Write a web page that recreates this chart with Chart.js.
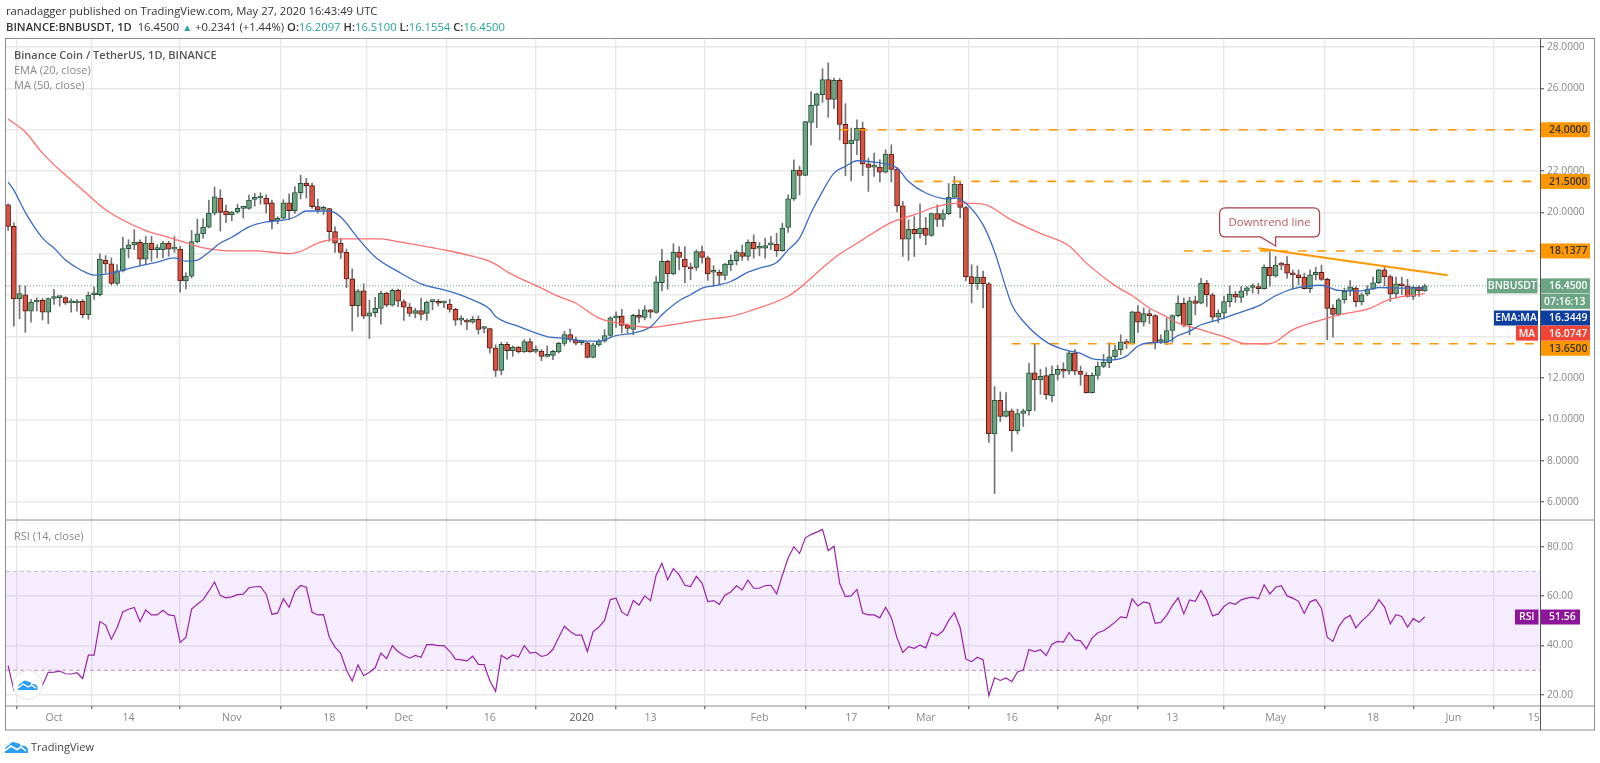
<!DOCTYPE html>
<html>
<head>
<meta charset="utf-8">
<title>BNBUSDT</title>
<script src="https://cdn.jsdelivr.net/npm/chart.js@4/dist/chart.umd.min.js"></script>
<style>
  html, body { margin: 0; padding: 0; background: #fff; }
  body { width: 1600px; height: 763px; position: relative; overflow: hidden; font-family: "Open Sans", sans-serif; }
  canvas { position: absolute; left: 0; top: 0; filter: blur(0.3px); }
  .txt { position: absolute; white-space: nowrap; }
  .head { left: 6px; font-size: 11.25px; color: #333; }
  .head b { font-weight: 600; }
  .head i { font-style: normal; color: #26a69a; }
  .up { color: #26a69a; font-size: 10px; }
  .pane { left: 14px; font-size: 11px; color: #888; }
</style>
</head>
<body>
<canvas id="myChart" width="1600" height="763"></canvas>
<div class="txt head" style="top:3px">ranadagger published on TradingView.com, May 27, 2020 16:43:49 UTC</div>
<div class="txt head" style="top:19px"><b>BINANCE:BNBUSDT, 1D</b>&nbsp; 16.4500 <span class="up">▲</span> +0.2341 (+1.44%) <b>O:</b><i>16.2097</i> <b>H:</b><i>16.5100</i> <b>L:</b><i>16.1554</i> <b>C:</b><i>16.4500</i></div>
<div class="txt pane" style="top:47px;color:#555;font-weight:600">Binance Coin / TetherUS, 1D, BINANCE</div>
<div class="txt pane" style="top:62px">EMA (20, close)</div>
<div class="txt pane" style="top:77px">MA (50, close)</div>
<div class="txt pane" style="top:528px">RSI (14, close)</div>
<div class="txt" style="left:31px;top:739px;font-size:11px;color:#444">TradingView</div>
<script>
// Daily candles, index 0 = Sep 23 2019, last = May 27 2020
const candleOpen = [
  20.37,19.33,15.83,16.02,15.23,15.67,15.75,15.18,15.84,15.88,
  15.88,15.63,15.62,15.7,15.06,16.02,16.02,17.69,17.51,16.57,
  17.18,18.25,18.43,18.56,17.74,18.52,18.2,18.2,18.52,18.23,
  18.23,16.69,16.92,18.59,18.96,19.29,19.97,20.7,20.07,19.88,
  20.02,20.2,20.2,20.63,20.7,20.7,20.46,19.6,19.72,20.46,
  20.09,20.96,21.42,21.3,20.28,20.15,20.19,19.07,18.52,18.07,
  16.79,15.49,16.21,14.99,15.15,15.36,16.1,15.52,16.23,15.69,
  15.42,15.12,15.26,15.12,15.69,15.66,15.63,15.57,15.31,14.79,
  14.79,14.7,14.83,14.39,14.39,13.44,12.36,13.62,13.31,13.49,
  13.25,13.75,13.28,13.3,13.04,13.09,13.25,13.67,14.09,13.84,
  13.7,13.7,12.99,13.6,13.78,14.05,14.9,14.99,14.54,14.34,
  15.03,14.92,15.29,15.16,16.6,17.64,17.03,18.08,17.75,17.37,
  17.34,18.11,17.8,17.11,17.11,16.95,17.46,17.67,18.06,17.87,
  18.55,18.27,18.27,18.43,18.47,18.15,19.27,20.66,22.05,21.79,
  24.35,25.18,25.69,26.42,25.47,26.39,24.26,23.31,23.48,24.08,
  22.35,22.19,22.19,21.95,22.82,22.1,20.32,18.71,19.18,18.97,
  19.24,18.89,19.94,19.66,19.94,20.74,21.37,20.24,16.9,16.55,
  16.87,16.55,9.29,10.92,10.14,10.41,9.45,10.28,10.41,12.25,
  11.9,12.11,11.13,12.17,12.41,12.33,13.21,12.33,12.14,11.29,
  12.12,12.56,12.73,13.02,13.36,13.74,13.66,15.19,14.69,15.09,
  15.01,13.76,13.74,14.29,15.01,15.62,14.57,15.73,15.61,16.58,
  16.02,14.94,15.13,15.69,16.05,15.89,16.21,16.37,16.42,16.32,
  17.35,16.93,17.48,17.5,17.06,16.98,16.87,16.32,16.98,17.11,
  16.77,15.36,15.07,15.77,16.21,16.34,15.69,16.05,16.29,16.6,
  17.22,16.9,16.06,16.55,16.45,15.94,16.39,16.21
];
const candleHigh = [
  20.42,19.5,16.47,16.44,15.8,15.87,15.84,15.87,16.28,15.92,
  15.92,15.82,15.79,15.79,16.15,16.4,18.0,17.91,17.8,17.48,
  18.8,18.68,19.17,18.68,18.84,18.84,18.44,18.6,18.6,18.84,
  18.36,17.08,19.13,19.68,19.7,20.6,21.23,21.1,20.36,20.05,
  20.4,20.22,20.84,20.93,20.95,20.85,20.6,19.8,20.62,20.9,
  21.25,21.8,21.65,21.42,20.65,20.3,20.2,19.3,18.76,18.23,
  17.27,16.28,16.55,15.76,15.9,16.2,16.15,16.3,16.3,15.77,
  15.6,15.37,15.86,15.72,15.76,15.8,15.7,15.8,15.37,15.0,
  14.86,14.97,15.0,14.48,14.41,13.6,13.72,13.72,13.55,13.52,
  13.85,13.9,13.55,13.36,13.55,13.33,13.72,14.25,14.36,13.97,
  13.82,13.73,13.68,13.85,14.33,14.96,15.2,15.32,14.62,15.08,
  15.3,15.49,15.32,16.9,18.22,17.7,18.48,18.35,18.35,17.55,
  18.19,18.38,17.87,17.43,17.22,17.54,17.95,18.16,18.43,18.67,
  18.92,18.55,18.76,18.84,19.0,19.48,20.85,22.55,22.24,24.4,
  25.85,25.77,26.95,27.23,26.5,26.48,25.26,24.08,24.48,24.37,
  22.63,22.87,22.55,23.03,23.27,22.18,20.53,19.64,19.8,20.42,
  19.76,19.97,20.37,20.13,21.4,21.74,21.5,20.29,17.47,17.42,
  17.16,16.62,11.58,11.32,11.29,10.5,10.49,10.49,12.7,13.66,
  12.42,12.5,12.58,12.61,12.73,13.29,13.37,12.57,12.25,12.25,
  12.77,13.14,13.7,13.58,14.08,13.86,15.22,15.5,15.38,15.3,
  15.06,14.08,14.9,15.06,15.97,15.86,15.9,15.95,16.82,16.71,
  16.1,15.29,15.95,16.45,16.18,16.42,16.42,16.55,16.58,17.47,
  18.11,17.87,17.58,17.87,17.22,17.22,17.06,17.22,17.35,17.46,
  16.82,15.53,15.85,16.34,16.71,16.42,16.1,16.47,16.87,17.25,
  17.42,16.98,16.87,16.87,16.77,16.45,16.45,16.53
];
const candleLow = [
  19.13,14.5,14.86,14.2,14.7,15.23,14.8,14.62,15.55,15.47,
  15.55,15.18,15.23,14.9,14.83,15.8,15.96,17.08,16.5,16.5,
  17.12,17.8,18.2,17.4,17.48,17.64,17.8,17.8,17.88,18.07,
  16.15,16.3,16.84,18.52,18.76,19.25,19.88,19.1,19.5,19.6,
  19.95,19.73,20.15,20.3,20.4,19.97,19.2,19.45,19.68,19.65,
  19.95,20.65,20.7,20.2,19.97,19.9,18.6,18.07,17.77,16.36,
  14.27,14.96,14.86,13.9,14.95,14.6,15.44,15.47,15.44,14.78,
  14.97,14.9,14.8,14.78,15.3,15.48,15.39,15.18,14.54,14.57,
  14.33,14.64,14.12,14.17,13.2,12.07,12.15,12.9,13.04,13.2,
  13.23,13.23,13.2,12.83,13.01,12.88,13.2,13.56,13.74,13.6,
  13.6,12.96,12.96,13.52,13.72,14.0,14.44,14.17,14.17,14.09,
  14.68,14.8,14.89,15.13,16.2,16.29,16.98,17.22,16.61,16.74,
  17.2,17.55,16.71,16.42,16.5,16.74,17.19,17.46,17.68,17.68,
  17.79,17.9,17.79,18.2,17.87,18.12,19.03,20.58,20.85,21.77,
  23.27,24.1,25.32,24.6,25.02,23.5,21.77,21.53,22.79,21.77,
  21.02,21.74,21.47,21.9,21.47,20.02,17.87,17.68,17.87,18.76,
  18.44,18.84,19.32,19.32,19.89,20.69,19.73,16.7,15.62,16.27,
  15.38,8.88,6.4,9.88,10.1,8.45,9.29,9.65,10.2,10.41,
  11.2,10.97,10.84,11.89,12.01,12.17,12.14,11.64,11.26,11.26,
  11.93,12.49,12.49,12.89,13.13,13.42,13.63,14.2,14.5,14.63,
  13.4,13.66,13.61,13.72,14.95,14.46,14.08,15.05,15.58,15.45,
  14.73,14.68,14.85,15.44,15.65,15.65,16.0,16.1,16.06,16.29,
  16.42,16.87,17.23,16.82,16.3,16.5,16.29,16.13,16.74,16.71,
  13.84,13.97,15.0,15.61,15.97,15.44,15.53,15.97,16.26,16.55,
  16.45,15.69,15.85,16.03,15.9,15.79,15.94,16.18
];
const candleClose = [
  19.33,15.83,16.08,15.23,15.67,15.76,15.18,15.84,15.86,15.89,
  15.62,15.63,15.7,15.06,16.0,16.03,17.74,17.51,16.57,17.18,
  18.25,18.43,18.57,17.74,18.52,18.2,18.22,18.52,18.23,18.24,
  16.69,16.92,18.59,18.96,19.29,19.97,20.75,20.0,19.88,20.02,
  20.2,20.22,20.6,20.65,20.72,20.4,19.6,19.72,20.46,20.09,
  20.96,21.41,21.3,20.28,20.12,20.17,19.07,18.52,18.07,16.79,
  15.49,16.21,14.99,15.15,15.36,16.1,15.52,16.23,15.71,15.42,
  15.12,15.26,15.07,15.66,15.7,15.61,15.64,15.31,14.79,14.8,
  14.7,14.83,14.34,14.4,13.44,12.36,13.62,13.31,13.49,13.25,
  13.75,13.25,13.29,13.04,13.14,13.28,13.67,14.09,13.84,13.68,
  13.71,12.99,13.6,13.78,14.05,14.9,14.99,14.54,14.39,15.03,
  14.92,15.29,15.18,16.64,17.64,17.03,18.08,17.82,17.37,17.27,
  18.11,17.82,17.03,17.12,16.95,17.5,17.69,18.08,17.87,18.55,
  18.24,18.28,18.4,18.44,18.15,19.24,20.66,22.05,21.79,24.39,
  25.18,25.74,26.42,25.47,26.39,24.26,23.31,23.5,24.08,22.35,
  22.18,22.2,21.95,22.82,22.08,20.32,18.71,19.18,18.97,19.24,
  18.89,19.94,19.66,19.94,20.74,21.37,20.24,16.9,16.55,16.87,
  16.55,9.29,10.92,10.14,10.41,9.45,10.28,10.41,12.25,11.9,
  12.08,11.18,12.17,12.41,12.32,13.21,12.33,12.17,11.29,12.12,
  12.56,12.75,13.02,13.36,13.74,13.66,15.19,14.69,15.11,15.01,
  13.7,13.77,14.29,15.01,15.62,14.55,15.73,15.6,16.58,16.02,
  14.94,15.13,15.69,16.05,15.9,16.21,16.35,16.39,16.32,17.35,
  16.93,17.45,17.45,17.06,16.98,16.85,16.32,16.98,17.11,16.76,
  15.36,15.07,15.77,16.19,16.4,15.69,16.02,16.29,16.6,17.22,
  16.9,16.06,16.55,16.45,15.94,16.39,16.21,16.45
];

// EMA / MA at these candle indexes
const emaDays = [0,1,3,6,8,10,13,15,18,22,26,29,31,33,35,37,39,42,45,48,50,52,56,58,61,64,68,72,77,81,84,85,89,94,97,101,103,106,109,112,114,117,119,121,124,126,129,131,134,136,138,140,142,144,146,148,151,153,155,157,160,164,165,167,170,172,174,175,177,181,184,187,189,192,195,197,199,202,204,206,208,211,215,218,221,224,229,232,236,239,244,247];
const emaValues = [21.47,21.08,20.0,18.76,18.28,17.7,17.17,16.97,17.07,17.36,17.6,17.8,17.65,17.7,18.08,18.52,18.8,19.3,19.54,19.63,19.78,20.07,20.07,19.78,18.76,17.85,17.14,16.55,16.18,15.77,15.32,14.97,14.49,14.0,13.91,13.78,13.78,14.04,14.17,14.46,15.05,15.73,16.02,16.34,16.5,16.66,17.11,17.31,17.58,18.19,18.76,19.97,21.02,21.9,22.23,22.5,22.44,22.35,22.15,21.5,20.94,20.65,20.69,20.45,19.4,18.1,16.34,15.54,14.74,13.74,13.38,13.18,12.93,12.86,13.05,13.54,13.7,13.73,14.05,14.26,14.57,14.81,15.18,15.48,15.97,16.31,16.48,16.23,16.21,16.37,16.34,16.3449];
const maDays = [0,3,6,9,13,17,24,28,33,36,39,43,49,51,54,58,65,68,72,76,80,84,88,92,96,99,103,107,112,115,121,126,129,136,138,144,149,154,158,162,166,170,175,180,185,188,193,196,199,202,204,208,212,216,220,224,229,232,237,241,247];
const maValues = [24.52,23.89,22.87,22.05,21.09,20.13,19.12,18.8,18.36,18.2,18.14,18.14,18.01,18.12,18.52,18.72,18.72,18.59,18.4,18.19,17.95,17.63,16.98,16.47,15.94,15.61,14.89,14.62,14.44,14.54,14.81,14.97,15.21,15.95,16.34,17.79,18.68,19.52,19.89,20.29,20.45,20.4,19.63,18.99,18.38,17.55,16.46,15.97,15.38,14.95,14.65,14.33,14.0,13.65,13.65,14.33,14.81,15.05,15.32,15.81,16.0747];

const rsiValues = [
  31.9,22,24.7,24,26,26.7,24,29.2,29.3,29.7,
  28.6,28.5,29,26.7,36.1,36.1,49.7,48.3,42.6,47.2,
  53.6,54.7,55.4,49.7,54.4,52.4,52.4,54.3,52.4,52.1,
  41.3,43.3,54.8,56.7,58.6,62,65.7,60.2,59.3,59.7,
  60.6,60.8,63.4,63.8,63.9,60.8,52.6,53.2,58.9,55.5,
  61.9,64.3,63.6,53.5,52.4,52.5,43.4,39.4,36.9,30.1,
  25.7,32.2,27.8,29.2,31,37,34.7,40,37.5,36.1,
  34.9,36,35.3,40.4,40.4,40,40,37.7,34.5,34.2,
  33.8,35.7,32.4,32.3,25.8,21.5,36.1,34.6,36.2,35.4,
  40,37,37.3,35.6,36.2,38.5,43.3,47.8,45.7,44.2,
  44.2,37.6,45.6,47.5,50.2,58.6,59.2,53.5,52.1,58.2,
  56.4,60.1,58.2,68.6,73.3,66.6,71.2,68.6,64.4,63.9,
  68,65.3,57.8,58.2,56.7,60.4,61.7,64.2,62.5,66.5,
  63.2,63.2,64.3,64.4,60.9,68.5,75.4,80,77.3,83.6,
  84.9,85.9,87,78.4,80.2,65.1,59.8,60.1,62.7,53.2,
  52.4,52.4,51.2,55.5,51.3,43,37.2,39.6,38.9,40.2,
  39.1,45.2,44.1,45.9,50.2,53.3,47.2,34.5,33.5,35.3,
  34.2,19.7,27,25.9,26.9,25.4,29.3,30.1,38.4,37.6,
  38.3,36,40.6,41.7,41.4,45.3,42.3,41.9,38.7,43,
  45.2,46,47.6,49.5,51.6,51.2,58.9,56,57.7,57.1,
  49,49.4,52.2,56.2,59.3,52.8,58.5,57.9,62.3,58.3,
  52,52.8,55.8,57.4,56.7,58.5,59.2,59.6,58.9,64.6,
  60.9,63.6,64.2,60.1,59.2,57.9,53,57.7,58.6,55.1,
  43.4,41.7,47.6,50.9,52.2,47.2,49.9,52,54.5,58.6,
  55.6,48.8,52.5,51.8,47.5,50.9,49.4,51.56
];

// x axis, days since Sep 23 2019
const xMin = -0.366;
const xMax = 267.1;
const xTickDays = [8,21,39,56,69,84,100,112,131,147,160,175,191,203,221,238,252,266];
const xTickLabels = ["Oct","14","Nov","18","Dec","16","2020","13","Feb","17","Mar","16","Apr","13","May","18","Jun","15"];

const priceTicks = [6,8,10,12,14,16,18,20,22,24,26,28];
const priceTicksHidden = [14,16,18,24]; // labels sit under the tags
const rsiTicks = [20,40,60,80];

// horizontal levels: value, first candle, tag text
const levelValues = [24,21.5,18.1377,13.65];
const levelStart = [145,158,205,175];
const levelLabels = ["24.0000","21.5000","18.1377","13.6500"];

const trendDays = [218,251];
const trendValues = [18.27,16.96];

const lastClose = 16.45;
const lastEma = 16.3449;
const lastMa = 16.0747;
const lastRsi = 51.56;
const countdown = "07:16:13";
const rsiBand = [30,70];

//Helpers
const candleDays = candleOpen.map((v, i) => i);
const xy = (days, values) => days.map((d, i) => ({ x: d, y: values[i] }));
const hline = (from, value) => [{ x: from, y: value }, { x: xMax, y: value }];
const isUp = candleOpen.map((o, i) => candleClose[i] >= o);

const wickData = candleDays.map((d) => ({ x: d, y: [candleLow[d], candleHigh[d]] }));
const bodyData = candleDays.map((d) => ({ x: d, y: [candleOpen[d], candleClose[d]] }));

const ORANGE = "#ff9800";
const GRID = "#e9e9e9";
const TICK_FONT = { family: "Open Sans", size: 10.2 };

const levelSets = levelValues.map((v, i) => ({
  type: "line",
  data: hline(levelStart[i], v),
  borderColor: ORANGE,
  borderWidth: 1.6,
  borderDash: [9, 10],
  pointRadius: 0,
  yAxisID: "y",
  order: 1,
}));

//Tags on the price scale
const drawValueTag = (ctx, text, y, right, bg, fg, textX = 1549) => {
  ctx.fillStyle = bg;
  ctx.fillRect(1541, y - 7.5, right - 1541, 15);
  ctx.fillStyle = fg;
  ctx.textAlign = "left";
  ctx.textBaseline = "middle";
  ctx.fillText(text, textX, y + 0.5);
};

const drawNameTag = (ctx, text, y, left, right, bg) => {
  ctx.fillStyle = bg;
  ctx.fillRect(left, y - 7.5, right - left, 15);
  ctx.fillStyle = "#fff";
  ctx.textAlign = "center";
  ctx.textBaseline = "middle";
  ctx.fillText(text, (left + right) / 2, y + 0.5);
};

const drawLogo = (ctx, x, y, s) => {
  // small cloud mark, x/y is the lower left corner
  ctx.save();
  ctx.translate(x, y);
  ctx.scale(s, s);
  ctx.fillStyle = "#2a9df4";
  ctx.beginPath();
  ctx.moveTo(0, 0);
  ctx.lineTo(0, -3);
  ctx.quadraticCurveTo(0, -7, 4, -8);
  ctx.quadraticCurveTo(7, -13, 11, -10);
  ctx.quadraticCurveTo(15, -10, 16, -7);
  ctx.quadraticCurveTo(22, -8, 23, -3);
  ctx.lineTo(23, 0);
  ctx.closePath();
  ctx.fill();
  ctx.strokeStyle = "#fff";
  ctx.lineWidth = 1.6;
  ctx.beginPath();
  ctx.moveTo(0, -2.5);
  ctx.lineTo(6, -7);
  ctx.lineTo(12, -3.5);
  ctx.lineTo(16, -6);
  ctx.lineTo(21, -2);
  ctx.stroke();
  ctx.restore();
};

const overlayPlugin = {
  id: "overlay",
  afterDraw(chart) {
    const { ctx, chartArea, scales } = chart;
    const py = scales.y;
    const ry = scales.yRsi;
    const paneLine = py.bottom;

    ctx.save();
    //frame and pane separators
    ctx.strokeStyle = "#8c8c8c";
    ctx.lineWidth = 1;
    ctx.strokeRect(5.5, 38.5, 1589, 691.5);
    ctx.beginPath();
    ctx.moveTo(6, paneLine);
    ctx.lineTo(1594, paneLine);
    ctx.moveTo(6, ry.bottom);
    ctx.lineTo(1594, ry.bottom);
    ctx.stroke();
    ctx.strokeStyle = "#555";
    ctx.beginPath();
    ctx.moveTo(chartArea.right + 0.5, 39);
    ctx.lineTo(chartArea.right + 0.5, 730);
    ctx.stroke();

    //tags
    ctx.font = '600 10.4px "Open Sans"';
    levelValues.forEach((v, i) => {
      const shift = v === 13.65 ? 4.5 : 0;
      drawValueTag(ctx, levelLabels[i], py.getPixelForValue(v) + shift, 1590, ORANGE, "#333");
    });
    const closeY = py.getPixelForValue(lastClose);
    drawValueTag(ctx, lastClose.toFixed(4), closeY, 1590, "#6ba583", "#fff");
    drawValueTag(ctx, countdown, closeY + 15.5, 1590, "#6ba583", "#fff", 1544);
    drawNameTag(ctx, "BNBUSDT", closeY, 1487, 1537.5, "#6ba583");
    const emaY = py.getPixelForValue(lastEma) + 30;
    drawValueTag(ctx, lastEma.toFixed(4), emaY, 1590, "#0d3f9f", "#fff");
    drawNameTag(ctx, "EMA:MA", emaY, 1494, 1538, "#0d3f9f");
    const maY = py.getPixelForValue(lastMa) + 39.5;
    drawValueTag(ctx, lastMa.toFixed(4), maY, 1590, "#f44336", "#fff");
    drawNameTag(ctx, "MA", maY, 1516, 1538, "#f44336");
    const rsiY = ry.getPixelForValue(lastRsi);
    drawValueTag(ctx, lastRsi.toFixed(2), rsiY, 1580, "#8e1599", "#fff");
    drawNameTag(ctx, "RSI", rsiY, 1515, 1538.5, "#8e1599");

    //callout for the trend line
    const tipX = scales.x.getPixelForValue(221);
    const tipY = py.getPixelForValue(18.38);
    ctx.fillStyle = "#fff";
    ctx.strokeStyle = "#ab3f48";
    ctx.lineWidth = 1.2;
    ctx.beginPath();
    ctx.moveTo(tipX, tipY);
    ctx.lineTo(tipX, tipY - 9);
    ctx.lineTo(tipX + 38, tipY - 9);
    ctx.quadraticCurveTo(tipX + 44, tipY - 9, tipX + 44, tipY - 15);
    ctx.lineTo(tipX + 44, tipY - 32);
    ctx.quadraticCurveTo(tipX + 44, tipY - 38, tipX + 38, tipY - 38);
    ctx.lineTo(tipX - 50, tipY - 38);
    ctx.quadraticCurveTo(tipX - 56, tipY - 38, tipX - 56, tipY - 32);
    ctx.lineTo(tipX - 56, tipY - 15);
    ctx.quadraticCurveTo(tipX - 56, tipY - 9, tipX - 50, tipY - 9);
    ctx.lineTo(tipX - 15, tipY - 9);
    ctx.closePath();
    ctx.fill();
    ctx.stroke();
    ctx.fillStyle = "#b8585f";
    ctx.font = '11.4px "Open Sans"';
    ctx.textAlign = "center";
    ctx.textBaseline = "middle";
    ctx.fillText("Downtrend line", tipX - 6, tipY - 23.5);

    //logos
    ctx.fillStyle = "#fff";
    ctx.strokeStyle = "#e2e2e2";
    ctx.lineWidth = 1;
    ctx.beginPath();
    ctx.arc(27.7, 685, 14.5, 0, Math.PI * 2);
    ctx.fill();
    ctx.stroke();
    drawLogo(ctx, 18, 690, 0.85);
    drawLogo(ctx, 5, 753, 1);
    ctx.restore();
  },
};

//Config
const config = {
  type: "bar",
  data: {
    datasets: [
      {
        type: "line",
        label: "EMA",
        data: xy(emaDays, emaValues),
        borderColor: "#3a6cc4",
        borderWidth: 1.3,
        pointRadius: 0,
        cubicInterpolationMode: "monotone",
        yAxisID: "y",
        order: 1,
      },
      {
        type: "line",
        label: "MA",
        data: xy(maDays, maValues),
        borderColor: "#ff6f6f",
        borderWidth: 1.3,
        pointRadius: 0,
        cubicInterpolationMode: "monotone",
        yAxisID: "y",
        order: 1,
      },
      ...levelSets,
      {
        type: "line",
        label: "trend",
        data: xy(trendDays, trendValues),
        borderColor: ORANGE,
        borderWidth: 2,
        pointRadius: 0,
        yAxisID: "y",
        order: 0,
      },
      {
        type: "line",
        label: "last",
        data: hline(xMin, lastClose),
        borderColor: "#4f9a75",
        borderWidth: 1,
        borderDash: [1, 2],
        pointRadius: 0,
        yAxisID: "y",
        order: 4,
      },
      {
        label: "body",
        data: bodyData,
        backgroundColor: isUp.map((u) => (u ? "#6ba583" : "#d75442")),
        borderColor: isUp.map((u) => (u ? "#225437" : "#5b1a13")),
        borderWidth: 1,
        borderSkipped: false,
        barThickness: 5,
        minBarLength: 2,
        grouped: false,
        yAxisID: "y",
        order: 2,
      },
      {
        label: "wick",
        data: wickData,
        backgroundColor: "#737375",
        barThickness: 1,
        grouped: false,
        yAxisID: "y",
        order: 3,
      },
      {
        type: "line",
        label: "RSI",
        data: xy(candleDays, rsiValues),
        borderColor: "#9c22ab",
        borderWidth: 1.2,
        pointRadius: 0,
        yAxisID: "yRsi",
        order: 1,
      },
      {
        type: "line",
        label: "upper",
        data: hline(xMin, rsiBand[1]),
        borderColor: "#c9b6d0",
        borderWidth: 1,
        borderDash: [4, 3],
        pointRadius: 0,
        fill: "+1",
        backgroundColor: "rgba(145,50,245,0.095)",
        yAxisID: "yRsi",
        order: 5,
      },
      {
        type: "line",
        label: "lower",
        data: hline(xMin, rsiBand[0]),
        borderColor: "#b79cc0",
        borderWidth: 1,
        borderDash: [4, 3],
        pointRadius: 0,
        yAxisID: "yRsi",
        order: 5,
      },
    ],
  },
  options: {
    responsive: false,
    animation: false,
    layout: { padding: { left: 6, top: 39, right: 6, bottom: 33 } },
    scales: {
      x: {
        type: "linear",
        min: xMin,
        max: xMax,
        offset: false,
        afterBuildTicks: (axis) => {
          axis.ticks = xTickDays.map((d) => ({ value: d }));
        },
        afterFit: (axis) => {
          axis.height = 24;
        },
        grid: { color: GRID, lineWidth: 1.4, tickColor: "#777", tickLength: 3 },
        border: { display: false },
        ticks: {
          autoSkip: false,
          maxRotation: 0,
          color: (c) => (xTickLabels[c.index] === "2020" ? "#555" : "#888"),
          font: { family: "Open Sans", size: 10.6 },
          padding: 3,
          callback: (v) => xTickLabels[xTickDays.indexOf(v)],
        },
      },
      y: {
        position: "right",
        stack: "panes",
        stackWeight: 481,
        min: 5.128,
        max: 28.387,
        afterBuildTicks: (axis) => {
          axis.ticks = priceTicks.map((v) => ({ value: v }));
        },
        afterFit: (axis) => {
          axis.width = 54;
        },
        grid: { color: GRID, lineWidth: 1.4, tickColor: "#777", tickLength: 4 },
        border: { display: false },
        ticks: {
          color: "#888",
          font: TICK_FONT,
          padding: 3,
          callback: (v) => (priceTicksHidden.includes(v) ? "" : v.toFixed(4)),
        },
      },
      yRsi: {
        position: "right",
        stack: "panes",
        stackWeight: 186,
        min: 15.56,
        max: 90.8,
        afterBuildTicks: (axis) => {
          axis.ticks = rsiTicks.map((v) => ({ value: v }));
        },
        afterFit: (axis) => {
          axis.width = 54;
        },
        grid: { color: GRID, lineWidth: 1.4, tickColor: "#777", tickLength: 4 },
        border: { display: false },
        ticks: {
          color: "#888",
          font: TICK_FONT,
          padding: 3,
          callback: (v) => v.toFixed(2),
        },
      },
    },
    plugins: {
      legend: { display: false },
      tooltip: { enabled: false },
    },
  },
  plugins: [overlayPlugin],
};

var myChart = new Chart(document.getElementById("myChart"), config);
</script>
</body>
</html>
